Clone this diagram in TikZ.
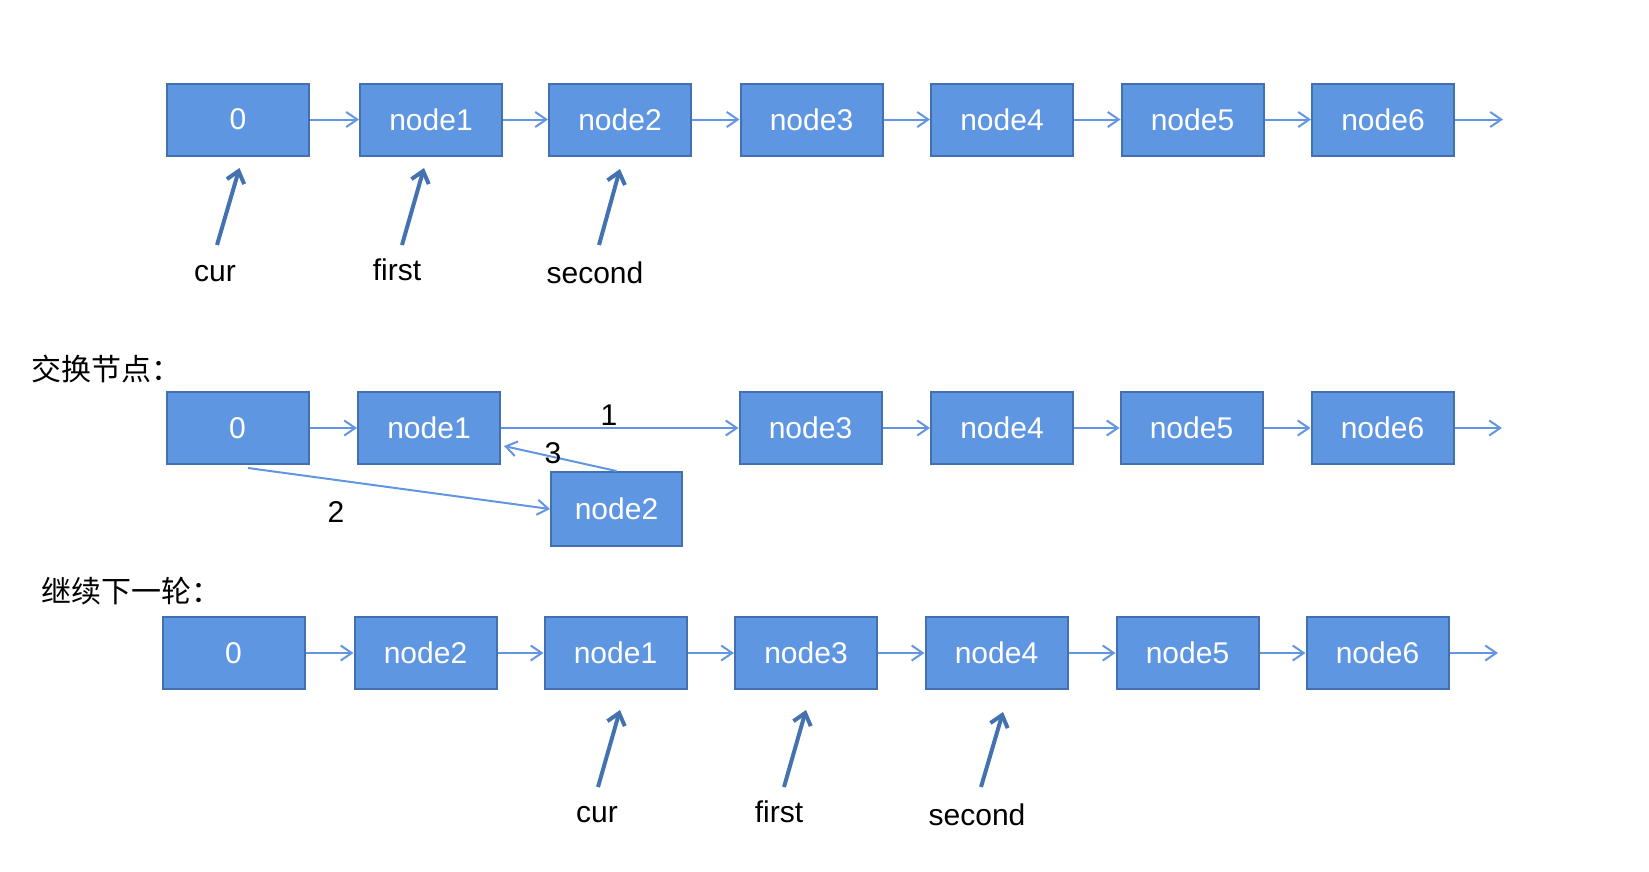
\documentclass[tikz,border=0pt]{standalone}
\usepackage{fontspec}
\setmainfont{Liberation Sans}
\newfontfamily\cjk{Noto Sans CJK SC}
\usetikzlibrary{arrows.meta,calc}
\definecolor{boxfill}{RGB}{95,150,226}
\definecolor{boxdraw}{RGB}{66,112,176}
\definecolor{linkc}{RGB}{98,150,226}
\definecolor{ptrc}{RGB}{68,114,176}
\begin{document}
\begin{tikzpicture}[x=1pt,y=-1pt,
 lnode/.style={draw=boxdraw, line width=2pt, fill=boxfill, text=white, minimum width=142pt, minimum height=72pt, inner sep=0pt, font=\fontsize{30}{36}\selectfont},
 link/.style={draw=linkc, line width=2pt, -{Straight Barb[length=11pt,width=15pt]}},
 ptr/.style={draw=ptrc, line width=4pt, -{Straight Barb[length=11pt,width=18pt]}},
 lbl/.style={font=\fontsize{30}{36}\selectfont, anchor=base, inner sep=0pt},
 ttl/.style={font=\cjk\fontsize{30}{36}\selectfont, anchor=base west, inner sep=0pt}]
\useasboundingbox (0,0) rectangle (1649,871);

% ---------- row 1 ----------
\node[lnode] (a0) at (238,119.5) {0};
\node[lnode] (a1) at (431,119.5) {node1};
\node[lnode] (a2) at (620,119.5) {node2};
\node[lnode] (a3) at (811.5,119.5) {node3};
\node[lnode] (a4) at (1002,119.5) {node4};
\node[lnode] (a5) at (1192.5,119.5) {node5};
\node[lnode] (a6) at (1383,119.5) {node6};
\coordinate (aend) at (1503,119.5);
\draw[link] (a0.east) -- (a1.west);
\draw[link] (a1.east) -- (a2.west);
\draw[link] (a2.east) -- (a3.west);
\draw[link] (a3.east) -- (a4.west);
\draw[link] (a4.east) -- (a5.west);
\draw[link] (a5.east) -- (a6.west);
\draw[link] (a6.east) -- (aend);

\node[lbl] (acur) at (215,281) {cur};
\node[lbl] (afirst) at (397,280) {first};
\node[lbl] (asecond) at (595,283) {second};
\coordinate (pa1s) at (217,245); \coordinate (pa1e) at (239.5,168);
\coordinate (pa2s) at (402,245); \coordinate (pa2e) at (424,168);
\coordinate (pa3s) at (599,245); \coordinate (pa3e) at (620,169);
\draw[ptr] (pa1s) -- (pa1e);
\draw[ptr] (pa2s) -- (pa2e);
\draw[ptr] (pa3s) -- (pa3e);

% ---------- row 2 ----------
\node[ttl] (t1) at (31.7,380) {交换节点：};
\node[lnode] (b0) at (237.5,428) {0};
\node[lnode] (b1) at (429,428) {node1};
\node[lnode, minimum width=131pt, minimum height=74pt] (b2) at (616.5,509) {node2};
\node[lnode] (b3) at (810.5,428) {node3};
\node[lnode] (b4) at (1002,428) {node4};
\node[lnode] (b5) at (1191.5,428) {node5};
\node[lnode] (b6) at (1382.5,428) {node6};
\coordinate (bend) at (1502,428);
\draw[link] (b0.east) -- (b1.west);
\draw[link] (b1.east) -- (b3.west);
\draw[link] (b3.east) -- (b4.west);
\draw[link] (b4.east) -- (b5.west);
\draw[link] (b5.east) -- (b6.west);
\draw[link] (b6.east) -- (bend);
\draw[link] ($(b0.south)+(10.5,3)$) -- (b2.west);
\draw[link] (b2.north) -- ($(b1.east)+(3,18)$);
\node[lbl] (n1) at (609,425) {1};
\node[lbl] (n2) at (336,522.5) {2};
\node[lbl] (n3) at (553,463) {3};

% ---------- row 3 ----------
\node[ttl] (t2) at (41.7,602) {继续下一轮：};
\node[lnode] (c0) at (233.5,653) {0};
\node[lnode] (c2) at (425.5,653) {node2};
\node[lnode] (c1) at (615.5,653) {node1};
\node[lnode] (c3) at (806,653) {node3};
\node[lnode] (c4) at (996.5,653) {node4};
\node[lnode] (c5) at (1187.5,653) {node5};
\node[lnode] (c6) at (1377.5,653) {node6};
\coordinate (cend) at (1498,653);
\draw[link] (c0.east) -- (c2.west);
\draw[link] (c2.east) -- (c1.west);
\draw[link] (c1.east) -- (c3.west);
\draw[link] (c3.east) -- (c4.west);
\draw[link] (c4.east) -- (c5.west);
\draw[link] (c5.east) -- (c6.west);
\draw[link] (c6.east) -- (cend);

\node[lbl] (ccur) at (597,822.5) {cur};
\node[lbl] (cfirst) at (779,822.5) {first};
\node[lbl] (csecond) at (977,825) {second};
\coordinate (pc1s) at (598,787); \coordinate (pc1e) at (620,710);
\coordinate (pc2s) at (784,787); \coordinate (pc2e) at (806,710);
\coordinate (pc3s) at (981,787); \coordinate (pc3e) at (1003,712);
\draw[ptr] (pc1s) -- (pc1e);
\draw[ptr] (pc2s) -- (pc2e);
\draw[ptr] (pc3s) -- (pc3e);
\end{tikzpicture}
\end{document}
